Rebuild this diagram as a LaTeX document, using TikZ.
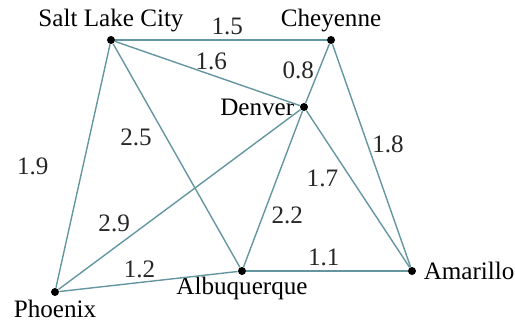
\documentclass[tikz,border=0pt]{standalone}
\usepackage{fontspec}
\setmainfont{Liberation Serif}
\usetikzlibrary{positioning}

\definecolor{roadcol}{RGB}{100,150,160}

\begin{document}
\begin{tikzpicture}[
        x=0.5bp, y=-0.5bp,
        font=\fontsize{12.6}{15}\selectfont,
        city/.style={circle, fill=black, inner sep=0pt, minimum size=4bp},
        road/.style={draw=roadcol, line width=0.7pt},
        weight/.style={inner sep=2pt, text=black!85}
    ]
        \useasboundingbox (0,0) rectangle (515,320);

        \node[city, label={[inner sep=1.5pt]above:Salt Lake City}] (slc) at (111,40) {};
        \node[city, label={[inner sep=1.5pt]above:Cheyenne}] (chey) at (331,40) {};
        \node[city, label={[inner sep=2.5pt]left:Denver}] (den) at (304,107) {};
        \node[city, label={[inner sep=1.5pt]below:Phoenix}] (phx) at (55,292) {};
        \node[city, label={[inner sep=0.5pt]below:Albuquerque}] (abq) at (242,271) {};
        \node[city, label={[inner sep=1.5pt, label distance=2pt]right:Amarillo}] (ama) at (412,271) {};

        \draw[road] (slc) -- (chey) node[weight, pos=0.53, above] {1.5};
        \draw[road] (slc) -- (den) node[weight, pos=0.52, above] {1.6};
        \draw[road] (chey) -- (den) node[weight, pos=0.45, left] {0.8};
        \draw[road] (chey) -- (ama) node[weight, pos=0.45, right] {1.8};
        \draw[road] (slc) -- (phx) node[weight, pos=0.5, left=15pt] {1.9};
        \draw[road] (slc) -- (abq) node[weight, pos=0.42, left=5pt] {2.5};
        \draw[road] (den) -- (phx) node[weight, pos=0.77, above=6pt] {2.9};
        \draw[road] (phx) -- (abq) node[weight, pos=0.45, above] {1.2};
        \draw[road] (den) -- (ama) node[weight, pos=0.43, left=4pt] {1.7};
        \draw[road] (den) -- (abq) node[weight, pos=0.67, right=2pt] {2.2};
        \draw[road] (abq) -- (ama) node[weight, pos=0.48, above] {1.1};
    \end{tikzpicture}
\end{document}
